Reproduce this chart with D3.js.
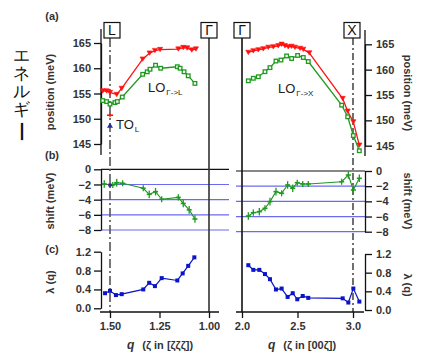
<!DOCTYPE html>
<html><head><meta charset="utf-8">
<script src="https://cdn.jsdelivr.net/npm/d3@7"></script>
<style>
html,body{margin:0;padding:0;background:#fff;}
svg text{font-family:"Liberation Sans",Arial,sans-serif;}
</style></head>
<body><svg id="c" width="428" height="358"></svg>
<script>
// ---------------- data ----------------
// left branch  (Γ -> L), q along [ζζζ]
const qRedL   = [1.537,1.517,1.500,1.466,1.441,1.335,1.300,1.273,1.247,1.155,1.130,1.110,1.087,1.066];
const eRedL   = [155.5,155.5,155.2,154.8,156.0,161.8,163.0,163.5,163.7,163.8,164.1,164.0,163.6,163.8];
const qGreenL = [1.537,1.517,1.500,1.475,1.463,1.438,1.335,1.312,1.298,1.270,1.244,1.160,1.146,1.126,1.105,1.071];
const eGreenL = [153.6,153.4,152.9,153.2,153.4,154.3,158.8,159.3,159.8,160.6,160.0,160.3,160.0,159.3,158.5,157.0];
const qTO = [1.5];
const eTOred = [150.7];
const eTOblue = [148.7];
const qShiftL = [1.529,1.486,1.466,1.436,1.332,1.302,1.270,1.239,1.155,1.130,1.100,1.071];
const shiftL  = [-1.93,-2.07,-1.76,-1.85,-2.5,-3.3,-2.95,-3.95,-3.7,-4.5,-5.35,-6.55];
const errL    = [0.5,0.4,0.5,0.4,0.4,0.5,0.5,0.4,0.4,0.5,0.5,0.5];
const shiftTO = [-2.07];
const qLamL   = [1.525,1.500,1.470,1.441,1.332,1.302,1.273,1.239,1.160,1.133,1.105,1.074];
const lamL    = [0.32,0.37,0.28,0.30,0.40,0.54,0.47,0.64,0.59,0.74,0.90,1.08];
// right branch (Γ -> X), q along [00ζ]
const qRedR   = [2.057,2.102,2.147,2.192,2.237,2.282,2.327,2.357,2.387,2.417,2.447,2.477,2.523,2.552,2.606,2.907,2.952,3.003,3.057];
const eRedR   = [163.4,163.7,163.9,164.1,164.4,164.5,164.7,165.0,164.7,164.5,164.6,164.4,164.2,164.0,163.3,154.3,151.8,149.7,145.1];
const qGreenR = [2.057,2.102,2.147,2.207,2.252,2.306,2.351,2.402,2.447,2.501,2.552,2.597,2.898,2.952,3.003,3.057];
const eGreenR = [157.8,158.3,158.6,159.6,160.4,161.7,161.9,162.7,162.2,162.8,162.4,161.6,153.0,150.7,147.0,144.0];
const qShiftR = [2.057,2.102,2.156,2.207,2.252,2.306,2.357,2.411,2.457,2.498,2.547,2.597,2.898,2.958,3.003,3.057];
const shiftR  = [-5.93,-5.49,-5.36,-4.92,-4.04,-2.72,-2.94,-1.84,-2.28,-1.54,-1.71,-1.71,-1.41,-0.53,-2.5,-0.96];
const errR    = [0.5,0.4,0.5,0.4,0.5,0.5,0.4,0.5,0.5,0.4,0.4,0.4,0.4,0.5,0.6,0.5];
const qLamR   = [2.057,2.102,2.156,2.207,2.252,2.306,2.357,2.411,2.457,2.498,2.547,2.597,2.907,2.958,3.003,3.057];
const lamR    = [0.96,0.86,0.86,0.77,0.66,0.44,0.46,0.28,0.36,0.23,0.30,0.26,0.25,0.16,0.46,0.18];
// ticks
const posTicks = [145,150,155,160,165];
const shiftTicks = [0,-2,-4,-6,-8];
const lamTicks = [0.0,0.4,0.8,1.2];
const xTicksL = [1.50,1.25,1.00];
const xTicksR = [2.0,2.5,3.0];
const blueLines = [-2,-4,-6,-8];
const titleChars = ["エ","ネ","ル","ギ","ー"];

// ---------------- drawing ----------------
const svg = d3.select("#c");
const RED="#ff1010", GREEN="#1e9a1e", BLUE="#0a14c8", LINEBLUE="#6a6af0";

const xL = d3.scaleLinear().domain([1.5,1.0]).range([110,209]);
const xR = d3.scaleLinear().domain([2.0,3.0]).range([242,353]);
const yAL = d3.scaleLinear().domain([145,165]).range([144,43]);
const yAR = d3.scaleLinear().domain([145,165]).range([145.7,44.3]);
const yBL = d3.scaleLinear().domain([-8,0]).range([230,169.3]);
const yBR = d3.scaleLinear().domain([-8,0]).range([231.7,171]);
const yCL = d3.scaleLinear().domain([0,1.2]).range([308.3,251.7]);
const yCR = d3.scaleLinear().domain([0,1.2]).range([310,254]);

function styleAxis(g){
  g.select(".domain").attr("stroke","#111").attr("stroke-width",1.3);
  g.selectAll(".tick line").attr("stroke","#111").attr("stroke-width",1.3);
  g.selectAll(".tick text").attr("font-size",11).attr("font-weight","bold").attr("fill","#333")
    .attr("font-family","Liberation Sans, Arial, sans-serif");
}
function yAxisLeft(scale, ticks, fmt, x){
  const g = svg.append("g").attr("transform",`translate(${x},0)`)
    .call(d3.axisLeft(scale).tickValues(ticks).tickFormat(fmt).tickSize(7).tickSizeOuter(0).tickPadding(3));
  styleAxis(g); return g;
}
function yAxisRight(scale, ticks, fmt, x){
  const g = svg.append("g").attr("transform",`translate(${x},0)`)
    .call(d3.axisRight(scale).tickValues(ticks).tickFormat(fmt).tickSize(7).tickSizeOuter(0).tickPadding(4));
  styleAxis(g); return g;
}
// shift panel grid lines
function gridLines(yS, x0, x1){
  svg.append("g").selectAll("line").data(blueLines).join("line")
    .attr("x1",x0).attr("x2",x1).attr("y1",d=>yS(d)).attr("y2",d=>yS(d))
    .attr("stroke",LINEBLUE).attr("stroke-width",1.2);
  svg.append("line").attr("x1",x0).attr("x2",x1).attr("y1",yS(0)).attr("y2",yS(0))
    .attr("stroke","#111").attr("stroke-width",1.2);
}
gridLines(yBL,101,229);
gridLines(yBR,236,365);

// vertical reference lines
svg.append("line").attr("x1",xL(1.0)).attr("x2",xL(1.0)).attr("y1",38).attr("y2",312).attr("stroke","#333").attr("stroke-width",1.6);
svg.append("line").attr("x1",xR(2.0)).attr("x2",xR(2.0)).attr("y1",38).attr("y2",312).attr("stroke","#111").attr("stroke-width",1.6);
svg.append("line").attr("x1",xL(1.5)).attr("x2",xL(1.5)).attr("y1",38).attr("y2",312).attr("stroke","#555").attr("stroke-width",1.6).attr("stroke-dasharray","9,3,2,3");
svg.append("line").attr("x1",xR(3.0)).attr("x2",xR(3.0)).attr("y1",38).attr("y2",312).attr("stroke","#111").attr("stroke-width",1.2).attr("stroke-dasharray","7,3,2,3");

// point boxes
function box(x, label){
  svg.append("rect").attr("x",x-8).attr("y",22.5).attr("width",16).attr("height",15.5)
    .attr("fill","#fff").attr("stroke","#111").attr("stroke-width",1.2);
  svg.append("text").attr("x",x).attr("y",35).attr("text-anchor","middle")
    .attr("font-size",14).attr("fill","#111").text(label);
}
box(xL(1.5)+2,"L"); box(xL(1.0),"Γ"); box(xR(2.0),"Γ"); box(xR(3.0)-1,"X");

// axes
yAxisLeft(yAL,posTicks,d3.format("d"),101);
yAxisLeft(yBL,shiftTicks,d3.format("d"),101);
yAxisLeft(yCL,lamTicks,d3.format(".1f"),101);
yAxisRight(yAR,posTicks,d3.format("d"),365);
yAxisRight(yBR,shiftTicks,d3.format("d"),365);
yAxisRight(yCR,lamTicks,d3.format(".1f"),365);
svg.append("line").attr("x1",101).attr("x2",101).attr("y1",29).attr("y2",155).attr("stroke","#111").attr("stroke-width",1.3);
svg.append("line").attr("x1",365).attr("x2",365).attr("y1",30).attr("y2",156).attr("stroke","#111").attr("stroke-width",1.3);

const gxL = svg.append("g").attr("transform","translate(0,312)")
  .call(d3.axisBottom(xL).tickValues(xTicksL).tickFormat(d3.format(".2f")).tickSize(6).tickSizeOuter(0).tickPadding(4));
gxL.select(".domain").attr("d","M100,0H219");
styleAxis(gxL);
const gxR = svg.append("g").attr("transform","translate(0,312)")
  .call(d3.axisBottom(xR).tickValues(xTicksR).tickFormat(d3.format(".1f")).tickSize(6).tickSizeOuter(0).tickPadding(4));
gxR.select(".domain").attr("d","M236,0H364");
styleAxis(gxR);

// series helpers
function series(xs, ys, xS, yS, color, w){
  const pts = xs.map((q,i)=>[xS(q), yS(ys[i])]);
  svg.append("path").attr("d",d3.line()(pts)).attr("fill","none").attr("stroke",color).attr("stroke-width",w||1.3);
  return pts;
}
function triDown(pts,color){
  svg.append("g").selectAll("path").data(pts).join("path")
    .attr("d",d=>`M${d[0]-2.6},${d[1]-2.2}L${d[0]+2.6},${d[1]-2.2}L${d[0]},${d[1]+2.2}Z`)
    .attr("fill",color).attr("stroke",color).attr("stroke-width",0.6);
}
function sqOpen(pts,color){
  svg.append("g").selectAll("rect").data(pts).join("rect")
    .attr("x",d=>d[0]-1.8).attr("y",d=>d[1]-1.8).attr("width",3.6).attr("height",3.6)
    .attr("fill","#fff").attr("stroke",color).attr("stroke-width",1.3);
}
function sqFill(pts,color){
  svg.append("g").selectAll("rect").data(pts).join("rect")
    .attr("x",d=>d[0]-2).attr("y",d=>d[1]-2).attr("width",4).attr("height",4)
    .attr("fill",color);
}
function errPts(xs, ys, es, xS, yS, color){
  const g = svg.append("g");
  xs.forEach((q,i)=>{
    const x=xS(q), y=yS(ys[i]);
    g.append("line").attr("x1",x).attr("x2",x).attr("y1",yS(ys[i]+es[i])).attr("y2",yS(ys[i]-es[i])).attr("stroke",color).attr("stroke-width",1.3);
    g.append("line").attr("x1",x-2.5).attr("x2",x+2.5).attr("y1",y).attr("y2",y).attr("stroke",color).attr("stroke-width",1.6);
  });
}

// panel (a)
let p;
p = series(qRedL,eRedL,xL,yAL,RED); triDown(p,RED);
p = series(qGreenL,eGreenL,xL,yAL,GREEN); sqOpen(p,GREEN);
p = series(qRedR,eRedR,xR,yAR,RED); triDown(p,RED);
p = series(qGreenR,eGreenR,xR,yAR,GREEN); sqOpen(p,GREEN);
// TO_L
qTO.forEach((q,i)=>{
  const x=xL(q), yr=yAL(eTOred[i]), yb=yAL(eTOblue[i]);
  svg.append("line").attr("x1",x-3).attr("x2",x+3).attr("y1",yr).attr("y2",yr).attr("stroke",RED).attr("stroke-width",1.6);
  svg.append("line").attr("x1",x).attr("x2",x).attr("y1",yr-2).attr("y2",yr+2).attr("stroke",RED).attr("stroke-width",1.2);
  svg.append("path").attr("d",`M${x-3},${yb+2.5}L${x+3},${yb+2.5}L${x},${yb-2.5}Z`).attr("fill","#2a2a9a");
});

// panel (b)
series(qShiftL,shiftL,xL,yBL,GREEN,1.1); errPts(qShiftL,shiftL,errL,xL,yBL,GREEN);
series(qShiftR,shiftR,xR,yBR,GREEN,1.1); errPts(qShiftR,shiftR,errR,xR,yBR,GREEN);
qTO.forEach((q,i)=>{
  svg.append("circle").attr("cx",xL(q)).attr("cy",yBL(shiftTO[i])).attr("r",2).attr("fill","#3a2a8a");
});

// panel (c)
p = series(qLamL,lamL,xL,yCL,BLUE,1.2); sqFill(p,BLUE);
p = series(qLamR,lamR,xR,yCR,BLUE,1.2); sqFill(p,BLUE);

// text labels
const T = (x,y,txt,opts={})=>{
  const t = svg.append("text").attr("x",x).attr("y",y).attr("font-size",opts.size||11)
    .attr("fill",opts.fill||"#333").attr("font-weight",opts.weight||"bold")
    .attr("text-anchor",opts.anchor||"middle");
  if(opts.rot!==undefined) t.attr("transform",`rotate(${opts.rot},${x},${y})`);
  t.text(txt); return t;
};
T(52,20,"(a)"); T(52,159,"(b)"); T(52,253,"(c)");
T(54,92,"position (meV)",{rot:-90,size:11});
T(54,201,"shift (meV)",{rot:-90,size:11});
T(54,282,"λ (q)",{rot:-90,size:11});
T(404,93,"position (meV)",{rot:90,size:11});
T(404,201,"shift (meV)",{rot:90,size:11});
T(404,285,"λ (q)",{rot:90,size:11});

// branch labels
function sublabel(x,y,main,sub){
  const t = svg.append("text").attr("x",x).attr("y",y).attr("font-size",13).attr("fill","#222");
  t.append("tspan").text(main);
  t.append("tspan").attr("font-size",8).attr("dy",3).attr("dx",1).text(sub);
}
sublabel(148,92,"LO","Γ->L");
sublabel(278,93,"LO","Γ->X");
sublabel(116,129,"TO","L");

// bottom axis titles
function xtitle(x,y,inner){
  const t = svg.append("text").attr("x",x).attr("y",y).attr("font-size",11).attr("fill","#333").attr("font-weight","bold").attr("text-anchor","middle");
  t.append("tspan").attr("font-style","italic").attr("font-size",12).text("q");
  t.append("tspan").attr("dx",8).text(inner);
}
xtitle(160,349,"(ζ in [ζζζ])");
xtitle(302,349,"(ζ in [00ζ])");

// vertical Japanese title, one glyph per line
const charY = [55,73,91,109,131];
titleChars.forEach((ch,i)=>{
  const t = svg.append("text").attr("x",21).attr("y",charY[i]).attr("font-size",17)
    .attr("font-family","Noto Sans CJK JP").attr("fill","#111")
    .attr("text-anchor","middle").attr("dominant-baseline","central").text(ch);
  if(ch==="ー") t.attr("transform",`rotate(90,21,${charY[i]})`).attr("font-size",21);
});
</script></body></html>
